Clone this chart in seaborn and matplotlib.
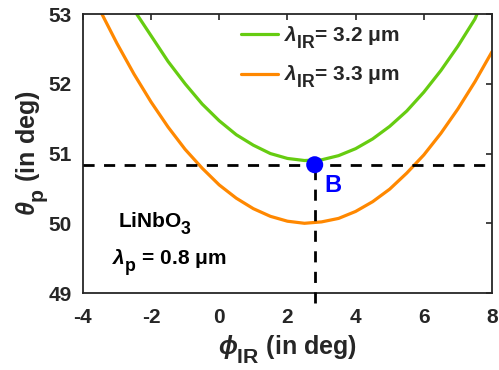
import numpy as np
import pandas as pd
import matplotlib
matplotlib.use("Agg")
import matplotlib.pyplot as plt
import matplotlib._mathtext as _mt
import seaborn as sns

# ---- data ----
phi_32 = [-2.42, -2.0, -1.5, -1.0, -0.5, 0.0, 0.5, 1.0, 1.5, 2.0, 2.5, 3.0, 3.5,
          4.0, 4.5, 5.0, 5.5, 6.0, 6.5, 7.0, 7.5, 7.56]
theta_32 = [53.0, 52.69, 52.32, 52.00, 51.71, 51.47, 51.27, 51.12, 51.00, 50.93,
            50.90, 50.91, 50.97, 51.07, 51.21, 51.39, 51.61, 51.88, 52.19, 52.54,
            52.93, 53.0]
phi_33 = [-3.44, -3.0, -2.5, -2.0, -1.5, -1.0, -0.5, 0.0, 0.5, 1.0, 1.5, 2.0, 2.5,
          3.0, 3.5, 4.0, 4.5, 5.0, 5.5, 6.0, 6.5, 7.0, 7.5, 8.0]
theta_33 = [53.0, 52.58, 52.14, 51.74, 51.38, 51.06, 50.79, 50.55, 50.36, 50.21,
            50.10, 50.03, 50.00, 50.02, 50.07, 50.17, 50.31, 50.49, 50.72, 50.98,
            51.29, 51.64, 52.03, 52.46]
B_phi = 2.8
B_theta = 50.84
labels = ["$\\lambda_{\\rm IR}$= 3.2 μm", "$\\lambda_{\\rm IR}$= 3.3 μm"]
x_ticks = [-4, -2, 0, 2, 4, 6, 8]
y_ticks = [49, 50, 51, 52, 53]

# MATLAB-like larger, lower subscripts
_mt.SHRINK_FACTOR = 0.85
if hasattr(_mt, 'FontConstantsBase'):
    _mt.FontConstantsBase.sub1 = 0.65

sns.set_style("white")
plt.rcParams['font.family'] = ['Liberation Sans', 'DejaVu Sans']
plt.rcParams['font.weight'] = 'bold'
plt.rcParams['axes.unicode_minus'] = False
plt.rcParams['mathtext.fontset'] = 'custom'
plt.rcParams['mathtext.rm'] = 'Liberation Sans:bold'
plt.rcParams['mathtext.it'] = 'Liberation Sans:italic:bold'
plt.rcParams['mathtext.bf'] = 'Liberation Sans:bold'
plt.rcParams['mathtext.sf'] = 'Liberation Sans:bold'

TXT = '#262626'
GREEN = '#66CC11'
ORANGE = '#FF8800'

fig = plt.figure(figsize=(4.99, 3.70), dpi=100)
ax = fig.add_axes([0.166, 0.208, 0.820, 0.754])

df32 = pd.DataFrame({'phi': phi_32, 'theta': theta_32})
df33 = pd.DataFrame({'phi': phi_33, 'theta': theta_33})
sns.lineplot(data=df32, x='phi', y='theta', color=GREEN, lw=2.3, ax=ax,
             label=labels[0], sort=False)
sns.lineplot(data=df33, x='phi', y='theta', color=ORANGE, lw=2.3, ax=ax,
             label=labels[1], sort=False)

# dashed guide lines
ax.plot([x_ticks[0], x_ticks[-1]], [B_theta, B_theta], color='black', lw=2.0,
        dashes=(4, 3.4), zorder=3)
ax.plot([B_phi, B_phi], [48.86, B_theta], color='black', lw=2.0,
        dashes=(4, 3.4), clip_on=False, zorder=3)
sns.scatterplot(x=[B_phi], y=[B_theta], color='#0000FF', s=150, ax=ax,
                edgecolor='none', zorder=5, legend=False)

ax.text(3.08, 50.45, 'B', color='#0000FF', fontsize=17, fontweight='bold')
ax.text(-2.97, 49.93, 'LiNbO$_3$', color='black', fontsize=15, fontweight='bold')
ax.text(-3.15, 49.40, '$\\lambda_{\\rm p}$ = 0.8 μm', color='black', fontsize=15,
        fontweight='bold')

ax.set_xlim(x_ticks[0], x_ticks[-1])
ax.set_ylim(y_ticks[0], y_ticks[-1])
ax.set_xticks(x_ticks)
ax.set_yticks(y_ticks)
ax.tick_params(direction='in', length=4, width=1.2, colors=TXT, labelsize=15,
               top=True, right=True)
ax.tick_params(axis='x', pad=11)
ax.tick_params(axis='y', pad=8)
for lab in ax.get_xticklabels() + ax.get_yticklabels():
    lab.set_fontweight('bold')
for s in ax.spines.values():
    s.set_visible(True)
    s.set_color(TXT)
    s.set_linewidth(1.3)

ax.set_xlabel('$\\phi_{\\rm IR}$ (in deg)', fontsize=18, fontweight='bold',
              color=TXT, labelpad=5)
ax.set_ylabel('$\\theta_{\\rm p}$ (in deg)', fontsize=18, fontweight='bold',
              color=TXT, labelpad=-1)

leg = ax.legend(loc='upper left', bbox_to_anchor=(0.34, 1.03), frameon=False,
                fontsize=15, handlelength=1.8, handletextpad=0.3,
                labelspacing=0.65)
for t in leg.get_texts():
    t.set_fontweight('bold')

fig.savefig('out.png', dpi=100)
